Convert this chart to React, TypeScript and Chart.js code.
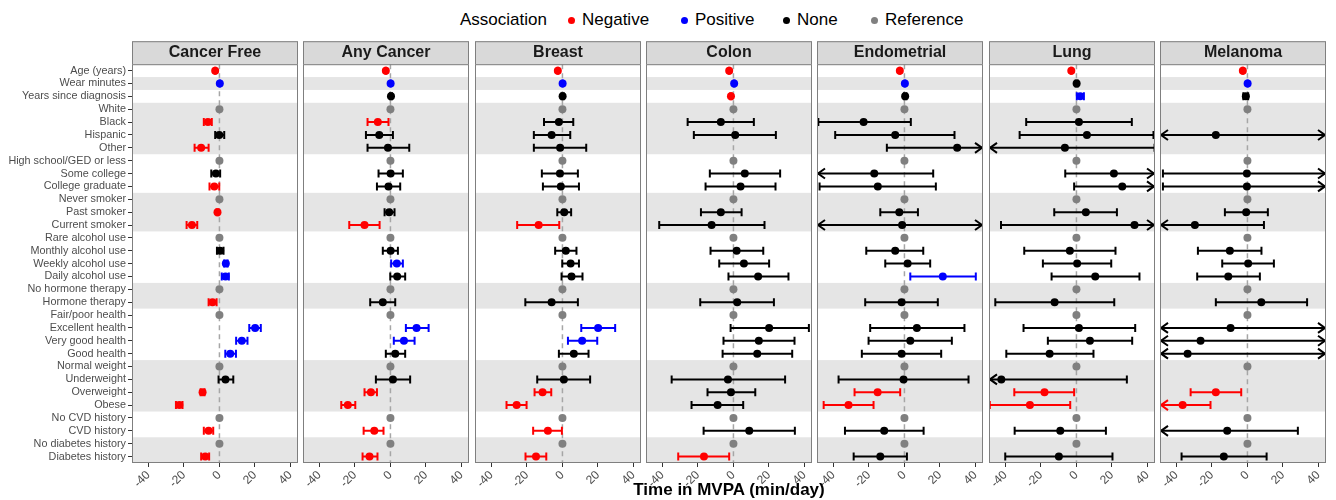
import React, { useEffect, useRef } from "react";
import { Chart, registerables } from "chart.js";

Chart.register(...registerables);

const FONT = "'Liberation Sans', Arial, Helvetica, sans-serif";
Chart.defaults.font.family = FONT;

const rowLabels = [
  "Age (years)", "Wear minutes", "Years since diagnosis",
  "White", "Black", "Hispanic", "Other",
  "High school/GED or less", "Some college", "College graduate",
  "Never smoker", "Past smoker", "Current smoker",
  "Rare alcohol use", "Monthly alcohol use", "Weekly alcohol use", "Daily alcohol use",
  "No hormone therapy", "Hormone therapy",
  "Fair/poor health", "Excellent health", "Very good health", "Good health",
  "Normal weight", "Underweight", "Overweight", "Obese",
  "No CVD history", "CVD history",
  "No diabetes history", "Diabetes history",
];

const panelNames = ["Cancer Free", "Any Cancer", "Breast", "Colon", "Endometrial", "Lung", "Melanoma"];
const referenceRows = [3, 7, 10, 13, 17, 19, 23, 27, 29];
const groupStarts = [0, 1, 2, 3, 7, 10, 13, 17, 19, 23, 27, 29];
const xTickValues = [-40, -20, 0, 20, 40];
const xMin = -49.25;
const xMax = 44.25;
const referenceValue = 0;

const legendLabels = ["Negative", "Positive", "None", "Reference"];
const xTitle = "Time in MVPA (min/day)";
const legendTitle = "Association";

// ---- Cancer Free ----
const cancerFreeEst = [-2.4, 0.2, null, null, -6.5, -0.1, -10.3, null, -2.0, -2.9, null, -1.1, -15.5, null, 0.4, 3.6, 3.4, null, -3.9, null, 20.1, 12.6, 6.1, null, 3.4, -9.5, -22.6, null, -6.1, null, -8.0];
const cancerFreeLow = [-2.6, 0.1, null, null, -8.8, -2.4, -14.0, null, -4.6, -5.6, null, -1.6, -18.5, null, -1.4, 2.6, 1.3, null, -6.1, null, 16.8, 9.4, 3.3, null, -0.5, -10.6, -24.5, null, -8.8, null, -10.3];
const cancerFreeHigh = [-2.2, 0.3, null, null, -4.3, 2.7, -6.1, null, 0.4, -0.1, null, -0.6, -12.5, null, 2.3, 4.6, 5.3, null, -1.6, null, 23.3, 15.8, 9.3, null, 7.8, -8.4, -20.8, null, -3.5, null, -5.8];

// ---- Any Cancer ----
const anyCancerEst = [-2.6, 0.1, 0.3, null, -7.1, -6.3, -1.4, null, 0.1, -1.1, null, -0.7, -14.6, null, 0.1, 3.6, 3.8, null, -4.3, null, 14.7, 7.6, 2.7, null, 1.4, -11.0, -24.0, null, -9.1, null, -11.8];
const anyCancerLow = [-2.8, 0.05, -0.3, null, -12.9, -13.8, -12.9, null, -6.7, -7.6, null, -3.3, -23.2, null, -4.3, 0.4, -0.1, null, -11.4, null, 8.7, 1.9, -2.6, null, -8.2, -14.6, -27.7, null, -15.1, null, -15.7];
const anyCancerHigh = [-2.4, 0.15, 0.9, null, -1.1, 1.4, 10.6, null, 7.0, 5.5, null, 2.3, -6.1, null, 4.2, 7.0, 8.3, null, 2.7, null, 21.5, 13.6, 8.3, null, 11.1, -7.6, -19.8, null, -3.9, null, -7.3];

// ---- Breast ----
const breastEst = [-2.6, 0.1, 0.1, null, -2.0, -6.1, -1.3, null, -1.4, -0.9, null, 1.0, -13.4, null, 1.9, 4.6, 5.1, null, -6.1, null, 20.1, 11.1, 6.4, null, 0.8, -11.2, -25.8, null, -8.2, null, -14.9];
const breastLow = [-2.8, 0.05, -0.5, null, -10.4, -16.1, -16.1, null, -11.6, -11.0, null, -2.9, -25.5, null, -4.1, -0.1, -0.5, null, -20.9, null, 10.6, 3.1, -2.0, null, -14.2, -15.7, -31.5, null, -16.5, null, -20.8];
const breastHigh = [-2.4, 0.15, 0.7, null, 6.1, 4.4, 13.4, null, 8.7, 9.3, null, 4.9, -1.8, null, 7.9, 9.3, 11.3, null, 8.7, null, 29.7, 19.6, 14.7, null, 15.6, -6.3, -20.2, null, -0.3, null, -9.1];

// ---- Colon ----
const colonEst = [-2.4, 0.4, -1.4, null, -7.1, 1.0, null, null, 6.4, 4.0, null, -7.1, -12.3, null, 1.8, 5.9, 13.9, null, 2.1, null, 20.1, 14.3, 13.4, null, -3.1, -1.4, -8.9, null, 8.9, null, -16.6];
const colonLow = [-2.6, 0.2, -1.8, null, -25.8, -22.3, null, null, -13.3, -15.7, null, -18.3, -41.8, null, -12.9, -8.0, -2.8, null, -18.7, null, -1.6, -5.6, -6.1, null, -34.8, -14.6, -23.6, null, -16.8, null, -31.1];
const colonHigh = [-2.2, 0.6, -1.0, null, 11.5, 23.9, null, null, 26.3, 23.7, null, 4.6, 17.5, null, 16.8, 20.1, 31.0, null, 22.8, null, 42.5, 34.4, 33.1, null, 29.1, 12.3, 5.5, null, 34.6, null, -2.4];

// ---- Endometrial ----
const endometrialEst = [-2.6, 0.25, 0.4, null, -23.0, -5.2, 29.7, null, -17.0, -15.0, null, -2.9, -1.3, null, -5.2, 1.8, 21.6, null, -1.6, null, 7.0, 3.3, -1.6, null, -0.5, -15.1, -31.5, null, -11.4, null, -13.6];
const endometrialLow = [-2.8, 0.1, -0.3, null, -48.5, -39.0, -9.9, null, -58.0, -47.8, null, -13.6, -60.0, null, -21.5, -10.8, 3.3, null, -22.1, null, -19.3, -20.2, -24.0, null, -37.1, -28.1, -45.5, null, -33.5, null, -28.6];
const endometrialHigh = [-2.4, 0.4, 1.1, null, 3.6, 28.2, 56.0, null, 16.2, 17.7, null, 7.6, 58.0, null, 10.6, 14.5, 40.2, null, 18.8, null, 33.8, 26.7, 20.7, null, 36.1, -2.4, -17.4, null, 10.8, null, 1.4];

// ---- Lung ----
const lungEst = [-2.9, 0.1, 2.1, null, 1.4, 5.9, -6.5, null, 21.1, 25.8, null, 5.3, 32.7, null, -3.7, 0.4, 10.6, null, -12.3, null, 1.4, 7.6, -15.1, null, -42.3, -18.0, -26.2, null, -9.1, null, -9.9];
const lungLow = [-3.1, -0.5, 0.2, null, -28.3, -32.0, -56.0, null, -6.3, -1.3, null, -12.5, -42.5, null, -29.4, -18.9, -14.0, null, -45.7, null, -29.8, -16.1, -39.5, null, -60.0, -35.0, -48.8, null, -34.8, null, -40.1];
const lungHigh = [-2.7, 0.7, 4.2, null, 31.2, 43.4, 44.0, null, 55.0, 57.0, null, 22.8, 60.0, null, 22.0, 19.6, 35.5, null, 21.3, null, 33.1, 31.4, 9.6, null, 28.4, -1.3, -3.5, null, 16.6, null, 20.3];

// ---- Melanoma ----
const melanomaEst = [-2.6, 0.1, -0.9, null, null, -17.8, null, null, -0.3, -0.3, null, -0.7, -29.6, null, -9.9, 0.4, -10.8, null, 7.8, null, -9.5, -26.4, -33.7, null, null, -17.8, -36.5, null, -11.4, null, -13.3];
const melanomaLow = [-2.8, 0.05, -2.3, null, null, -60.0, null, null, -47.6, -47.6, null, -12.7, -60.0, null, -27.9, -14.2, -28.3, null, -17.8, null, -60.0, -60.0, -60.0, null, null, -32.0, -60.0, null, -60.0, null, -37.1];
const melanomaHigh = [-2.4, 0.15, 0.4, null, null, 60.0, null, null, 60.0, 60.0, null, 11.5, 9.3, null, 7.9, 14.9, 7.0, null, 33.6, null, 60.0, 60.0, 60.0, null, null, -3.5, -20.8, null, 28.4, null, 10.8];

const panelEst = [cancerFreeEst, anyCancerEst, breastEst, colonEst, endometrialEst, lungEst, melanomaEst];
const panelLow = [cancerFreeLow, anyCancerLow, breastLow, colonLow, endometrialLow, lungLow, melanomaLow];
const panelHigh = [cancerFreeHigh, anyCancerHigh, breastHigh, colonHigh, endometrialHigh, lungHigh, melanomaHigh];

// ---- styling ----
const NEG = "#FF0000";
const POS = "#0000FF";
const NONE = "#000000";
const REF = "#808080";
const legendColors = [NEG, POS, NONE, REF];

const PANEL_LEFT0 = 132;
const PANEL_STEP = 171.33;
const PANEL_W = 166;
const CANVAS_TOP = 41;
const CANVAS_H = 459;
const STRIP_H = 23;

function colorFor(lo: number, hi: number) {
  if (hi < 0) return NEG;
  if (lo > 0) return POS;
  return NONE;
}

function Panel({ index }: { index: number }) {
  const ref = useRef<HTMLCanvasElement>(null);
  const isFirst = index === 0;
  const width = isFirst ? PANEL_LEFT0 + PANEL_W : PANEL_W;
  const left = isFirst ? 0 : Math.round(PANEL_LEFT0 + index * PANEL_STEP);

  useEffect(() => {
    if (!ref.current) return;
    const est = panelEst[index];
    const lo = panelLow[index];
    const hi = panelHigh[index];

    const pts: { x: number; y: string }[] = [];
    const cols: string[] = [];
    rowLabels.forEach((lab, r) => {
      if (referenceRows.includes(r)) {
        pts.push({ x: referenceValue, y: lab });
        cols.push(REF);
      } else if (est[r] !== null) {
        pts.push({ x: est[r] as number, y: lab });
        cols.push(colorFor(lo[r] as number, hi[r] as number));
      }
    });

    const decor = {
      id: "panelDecor",
      beforeDraw(chart: any) {
        const { ctx, chartArea: a } = chart;
        ctx.save();
        ctx.fillStyle = "#D9D9D9";
        ctx.fillRect(a.left, a.top - STRIP_H, a.right - a.left, STRIP_H);
        ctx.strokeStyle = "#7F7F7F";
        ctx.lineWidth = 1;
        ctx.strokeRect(a.left + 0.5, a.top - STRIP_H + 0.5, a.right - a.left - 1, STRIP_H);
        ctx.restore();
      },
      beforeDatasetsDraw(chart: any) {
        const { ctx, chartArea: a, scales } = chart;
        const x = scales.x;
        const y = scales.y;
        ctx.save();
        ctx.beginPath();
        ctx.rect(a.left, a.top, a.right - a.left, a.bottom - a.top);
        ctx.clip();
        ctx.fillStyle = "#FFFFFF";
        ctx.fillRect(a.left, a.top, a.right - a.left, a.bottom - a.top);
        groupStarts.forEach((s, k) => {
          const e = k + 1 < groupStarts.length ? groupStarts[k + 1] - 1 : rowLabels.length - 1;
          if (k % 2 === 1) {
            const y0 = y.getPixelForValue(s - 0.5);
            const y1 = y.getPixelForValue(e + 0.5);
            ctx.fillStyle = "#E5E5E5";
            ctx.fillRect(a.left, y0, a.right - a.left, y1 - y0);
          }
        });
        const zx = x.getPixelForValue(0);
        ctx.setLineDash([5, 4]);
        ctx.strokeStyle = "#A6A6A6";
        ctx.lineWidth = 1.5;
        ctx.beginPath();
        ctx.moveTo(zx, a.top);
        ctx.lineTo(zx, a.bottom);
        ctx.stroke();
        ctx.setLineDash([]);

        rowLabels.forEach((_lab, r) => {
          if (referenceRows.includes(r) || est[r] === null) return;
          const l = lo[r] as number;
          const h = hi[r] as number;
          const col = colorFor(l, h);
          const yc = y.getPixelForValue(r);
          const xl = x.getPixelForValue(Math.max(l, x.min));
          const xr = x.getPixelForValue(Math.min(h, x.max));
          ctx.strokeStyle = col;
          ctx.lineWidth = 2;
          ctx.lineCap = "butt";
          ctx.lineJoin = "miter";
          ctx.beginPath();
          ctx.moveTo(xl, yc);
          ctx.lineTo(xr, yc);
          ctx.stroke();
          ctx.beginPath();
          if (l < x.min) {
            ctx.moveTo(xl + 8, yc - 5);
            ctx.lineTo(xl + 1, yc);
            ctx.lineTo(xl + 8, yc + 5);
          } else {
            ctx.moveTo(xl, yc - 4);
            ctx.lineTo(xl, yc + 4);
          }
          if (h > x.max) {
            ctx.moveTo(xr - 8, yc - 5);
            ctx.lineTo(xr - 1, yc);
            ctx.lineTo(xr - 8, yc + 5);
          } else {
            ctx.moveTo(xr, yc - 4);
            ctx.lineTo(xr, yc + 4);
          }
          ctx.stroke();
        });
        ctx.restore();
      },
      afterDatasetsDraw(chart: any) {
        const { ctx, chartArea: a } = chart;
        ctx.save();
        ctx.strokeStyle = "#7F7F7F";
        ctx.lineWidth = 1;
        ctx.strokeRect(a.left + 0.5, a.top + 0.5, a.right - a.left - 1, a.bottom - a.top - 1);
        ctx.restore();
      },
    };

    const yScale: any = {
      type: "category",
      labels: rowLabels,
      offset: true,
      display: isFirst,
      grid: { display: true, drawOnChartArea: false, drawTicks: true, tickLength: 4, color: "#333333" },
      border: { display: false },
      ticks: {
        color: "#4D4D4D",
        font: { size: 10.8, family: FONT },
        padding: 2,
        autoSkip: false,
      },
    };
    if (isFirst) {
      yScale.afterFit = (scale: any) => {
        scale.width = PANEL_LEFT0;
        scale.paddingTop = 0;
        scale.paddingBottom = 0;
      };
    }

    const chart = new Chart(ref.current, {
      type: "scatter",
      data: {
        datasets: [
          {
            data: pts as any,
            pointRadius: 4,
            pointHoverRadius: 4,
            pointBorderWidth: 0,
            pointBackgroundColor: cols,
            pointBorderColor: cols,
          },
        ],
      },
      options: {
        animation: false,
        responsive: false,
        devicePixelRatio: 1,
        events: [],
        layout: { padding: 0, autoPadding: false },
        plugins: {
          legend: { display: false },
          tooltip: { enabled: false },
          title: {
            display: true,
            text: panelNames[index],
            fullSize: false,
            color: "#1A1A1A",
            font: { size: 16, weight: "bold", family: FONT, lineHeight: 1.2 },
            padding: { top: 2, bottom: 2 },
          },
        },
        scales: {
          x: {
            type: "linear",
            min: xMin,
            max: xMax,
            afterBuildTicks(scale: any) {
              scale.ticks = xTickValues.map((v) => ({ value: v }));
            },
            ticks: {
              minRotation: 45,
              maxRotation: 45,
              color: "#4D4D4D",
              font: { size: 12, family: FONT },
              padding: 1,
              callback: (v: any) => String(v),
            },
            grid: { display: true, drawOnChartArea: false, drawTicks: true, tickLength: 4, color: "#333333" },
            border: { display: false },
            afterFit(scale: any) {
              scale.height = 37;
              scale.paddingLeft = 0;
              scale.paddingRight = 0;
            },
          } as any,
          y: yScale,
        },
      },
      plugins: [decor],
    } as any);
    return () => chart.destroy();
  }, [index]);

  return (
    <canvas
      ref={ref}
      width={width}
      height={CANVAS_H}
      style={{ position: "absolute", left, top: CANVAS_TOP, width, height: CANVAS_H }}
    />
  );
}

const legendDotX = [571, 684, 786, 874];

export default function App() {
  return (
    <div
      style={{
        position: "absolute",
        left: 0,
        top: 0,
        width: 1336,
        height: 500,
        background: "#FFFFFF",
        fontFamily: FONT,
        overflow: "hidden",
      }}
    >
      <div style={{ position: "absolute", left: 460, top: 10, height: 20, lineHeight: "20px", fontSize: 17, color: "#000" }}>
        {legendTitle}
      </div>
      {legendLabels.map((lab, i) => (
        <React.Fragment key={lab}>
          <div
            style={{
              position: "absolute",
              left: legendDotX[i] - 3.5,
              top: 16.5,
              width: 7,
              height: 7,
              borderRadius: 3.5,
              background: legendColors[i],
            }}
          />
          <div
            style={{
              position: "absolute",
              left: legendDotX[i] + 11,
              top: 10,
              height: 20,
              lineHeight: "20px",
              fontSize: 17,
              color: "#000",
              whiteSpace: "nowrap",
            }}
          >
            {lab}
          </div>
        </React.Fragment>
      ))}
      {panelNames.map((_n, i) => (
        <Panel key={i} index={i} />
      ))}
      <div
        style={{
          position: "absolute",
          left: 529,
          width: 400,
          top: 480,
          height: 20,
          lineHeight: "20px",
          textAlign: "center",
          fontSize: 17,
          fontWeight: "bold",
          color: "#000",
          whiteSpace: "nowrap",
        }}
      >
        {xTitle}
      </div>
    </div>
  );
}
